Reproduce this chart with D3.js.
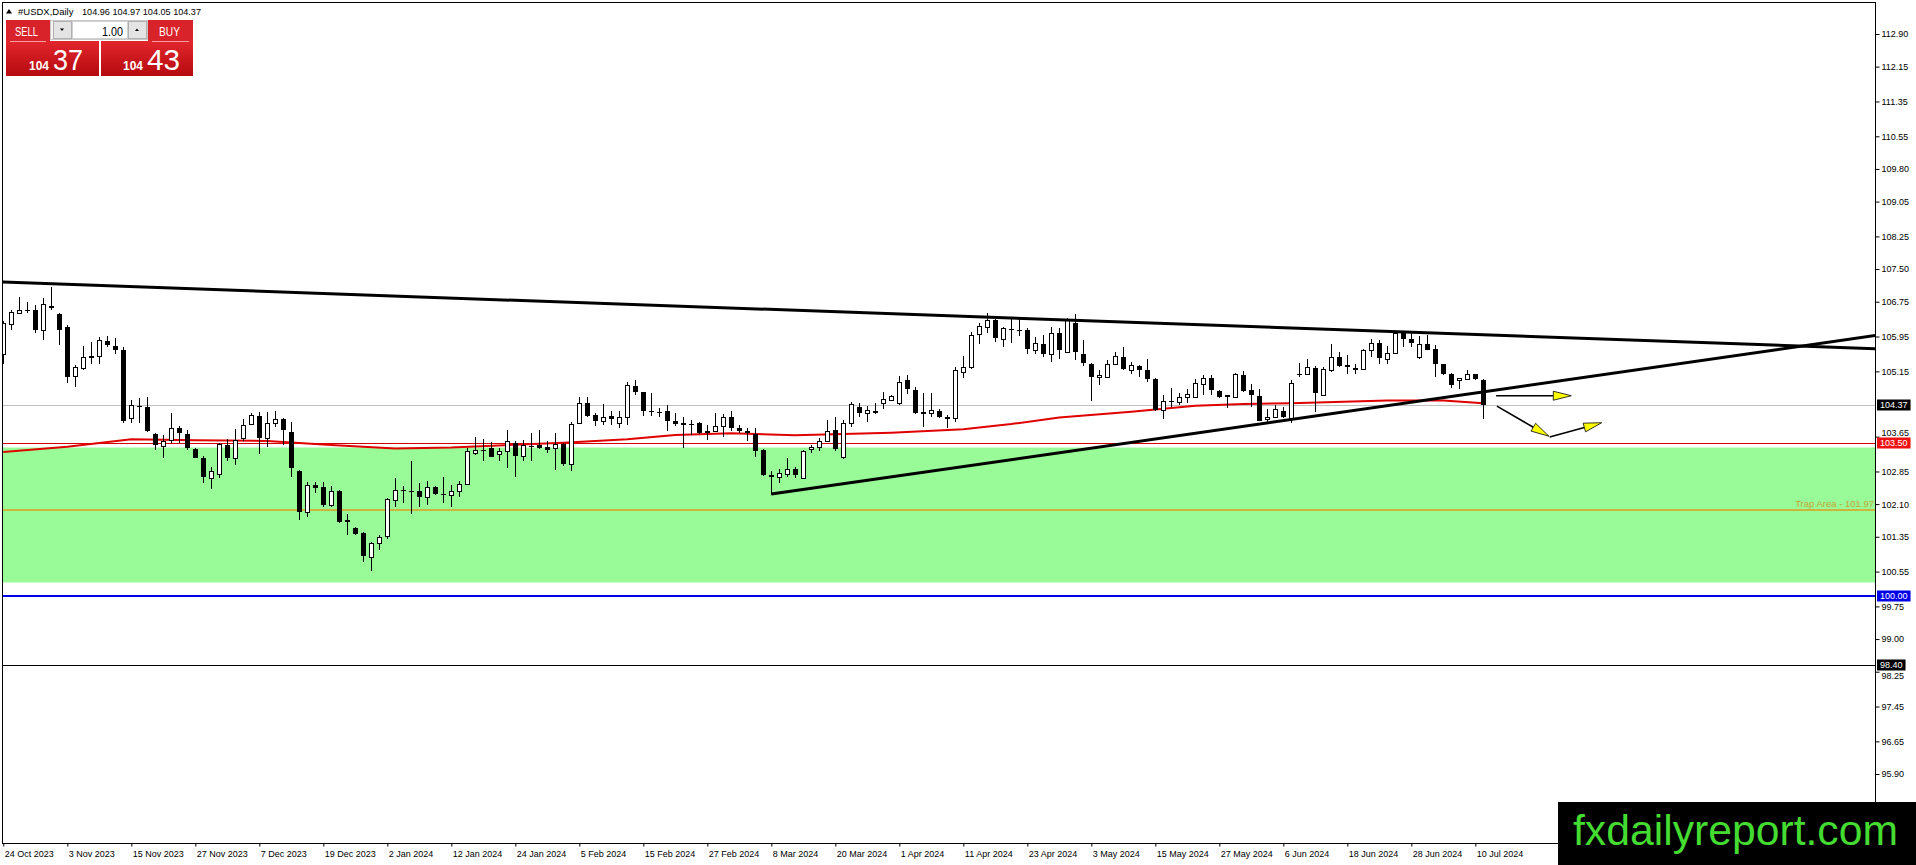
<!DOCTYPE html>
<html>
<head>
<meta charset="utf-8">
<script src="https://cdn.jsdelivr.net/npm/d3@7"></script>
<style>
  html, body { margin: 0; padding: 0; background: #fff; overflow: hidden; }
  svg { display: block; font-family: "Liberation Sans", Arial, sans-serif; }
</style>
</head>
<body>
<svg id="chart" width="1916" height="865"></svg>
<script>
// date labels, one every 8 bars starting at bar 0
const dateLabels = ["24 Oct 2023", "3 Nov 2023", "15 Nov 2023", "27 Nov 2023", "7 Dec 2023", "19 Dec 2023",
  "2 Jan 2024", "12 Jan 2024", "24 Jan 2024", "5 Feb 2024", "15 Feb 2024", "27 Feb 2024", "8 Mar 2024",
  "20 Mar 2024", "1 Apr 2024", "11 Apr 2024", "23 Apr 2024", "3 May 2024", "15 May 2024", "27 May 2024",
  "6 Jun 2024", "18 Jun 2024", "28 Jun 2024", "10 Jul 2024"];

const priceTicks = [112.90, 112.15, 111.35, 110.55, 109.80, 109.05, 108.25, 107.50, 106.75, 105.95, 105.15,
  103.65, 102.85, 102.10, 101.35, 100.55, 99.75, 99.00, 98.25, 97.45, 96.65, 95.90];

// daily OHLC, #USDX
const opens = [105.56,106.24,106.50,106.57,106.57,106.10,106.64,106.47,106.18,105.04,105.22,105.50,105.50,105.85,105.73,105.64,
  104.07,104.36,104.32,103.71,103.44,103.57,103.85,103.71,103.36,103.17,102.69,102.79,103.46,103.15,103.61,103.94,
  104.12,103.61,103.96,104.05,103.76,102.86,101.93,102.55,102.49,102.08,102.39,101.74,101.56,101.43,100.88,101.20,
  101.37,102.19,102.43,102.39,102.39,102.26,102.49,102.33,102.30,102.41,102.56,103.28,103.35,103.38,103.25,103.31,
  103.51,103.21,103.44,103.46,103.42,103.38,103.48,103.02,103.96,104.42,104.15,104.00,104.13,103.97,104.09,104.81,
  104.67,104.25,104.21,104.23,104.02,103.96,103.94,103.97,103.78,103.78,103.90,104.09,103.84,103.79,103.71,103.34,
  102.77,102.72,102.79,102.90,102.71,103.36,103.42,103.56,103.80,103.19,103.96,104.34,104.19,104.24,104.42,104.49,
  104.43,104.94,104.72,104.20,104.19,104.25,104.09,104.07,105.14,105.24,106.01,106.16,106.33,105.89,106.12,106.10,
  106.10,105.64,105.78,105.54,106.02,105.60,106.25,105.56,105.33,105.01,105.03,105.33,105.47,105.18,105.27,105.17,
  104.97,104.26,104.46,104.45,104.56,104.57,104.87,104.99,104.71,104.60,104.57,105.07,104.72,104.58,104.05,104.11,
  104.25,104.07,105.08,105.09,105.22,104.61,105.18,105.47,105.30,105.21,105.20,105.63,105.81,105.44,105.58,106.02,
  105.89,105.47,105.78,105.66,105.32,105.10,104.94,104.97,105.09,104.96];
const highs = [106.30,106.55,106.85,106.75,106.67,106.83,107.08,106.50,106.22,105.30,105.73,105.83,105.95,105.96,105.92,105.72,
  104.49,104.53,104.55,103.73,103.69,104.19,103.89,103.80,103.38,103.20,102.96,103.51,103.59,103.82,104.05,104.19,
  104.22,104.22,104.24,104.07,103.99,102.88,102.61,102.61,102.61,102.52,102.42,101.87,101.58,101.45,101.24,101.39,
  102.23,102.69,102.52,103.08,102.58,102.64,102.52,102.72,102.54,102.62,103.38,103.65,103.59,103.53,103.38,103.80,
  103.54,103.57,103.73,103.80,103.56,103.74,103.51,103.99,104.57,104.57,104.20,104.40,104.25,104.25,104.91,104.94,
  104.68,104.65,104.30,104.38,104.19,104.09,104.03,103.99,103.92,104.20,104.17,104.25,103.92,103.84,103.84,103.36,
  102.87,102.90,103.15,102.95,103.34,103.46,103.61,104.03,104.11,104.03,104.45,104.43,104.35,104.42,104.68,104.61,
  105.04,105.07,104.80,104.65,104.65,104.28,104.15,105.26,105.50,106.06,106.27,106.48,106.35,106.16,106.35,106.35,
  106.14,105.95,105.99,106.16,106.14,106.37,106.46,105.87,105.35,105.17,105.41,105.60,105.72,105.37,105.30,105.43,
  104.99,104.61,104.76,104.65,104.74,104.97,105.07,105.07,104.72,104.61,105.12,105.16,104.87,104.74,104.28,104.38,
  104.34,104.94,105.35,105.43,105.27,105.24,105.78,105.60,105.53,105.32,105.66,105.89,105.87,105.73,106.08,106.08,
  106.08,105.96,105.98,105.76,105.33,105.12,105.00,105.18,105.10,104.97];
const lows = [105.33,106.10,106.48,106.48,106.02,105.87,106.57,105.76,104.89,104.80,105.18,105.32,105.33,105.70,105.56,103.96,
  103.96,103.97,103.76,103.34,103.15,103.51,103.51,103.34,103.15,102.58,102.44,102.69,103.08,103.00,103.54,103.92,
  103.25,103.42,103.88,103.46,102.73,101.74,101.81,102.36,102.03,102.04,101.66,101.39,101.39,100.78,100.57,101.05,
  101.29,102.04,102.12,101.87,102.04,102.08,102.31,102.12,102.04,102.27,102.54,103.23,103.10,103.19,103.08,102.94,
  102.73,103.08,103.10,103.36,103.27,102.88,102.98,102.85,103.94,104.09,103.90,103.92,103.92,103.86,103.92,104.61,
  104.13,104.13,104.09,103.77,103.90,103.40,103.69,103.72,103.57,103.77,103.65,103.79,103.74,103.54,103.18,102.75,
  102.31,102.59,102.72,102.70,102.70,103.28,103.31,103.54,103.33,103.13,103.88,104.09,103.99,104.17,104.28,104.48,
  104.38,104.64,104.17,103.88,104.09,104.07,103.84,103.99,104.99,105.20,105.78,106.02,105.83,105.70,105.81,105.96,
  105.56,105.56,105.47,105.37,105.43,105.58,105.41,105.27,104.48,104.84,104.99,105.32,105.17,105.10,105.03,104.91,
  104.25,104.05,104.34,104.38,104.43,104.53,104.61,104.61,104.53,104.30,104.55,104.68,104.34,104.00,103.96,104.09,
  104.07,103.96,105.01,105.07,104.22,104.58,105.14,105.24,105.10,105.10,105.18,105.49,105.33,105.33,105.56,105.70,
  105.72,105.43,105.63,105.01,105.07,104.76,104.74,104.94,104.95,104.05];
const closes = [106.25,106.52,106.57,106.55,106.10,106.70,106.61,106.10,105.03,105.26,105.47,105.51,105.87,105.75,105.63,104.02,
  104.38,104.33,103.79,103.46,103.56,103.84,103.73,103.38,103.17,102.72,102.85,103.48,103.15,103.57,103.92,104.14,
  103.61,103.96,104.05,103.80,102.92,101.93,102.55,102.46,102.08,102.41,101.70,101.68,101.41,100.91,101.20,101.35,
  102.21,102.42,102.41,102.38,102.26,102.49,102.33,102.30,102.41,102.56,103.33,103.34,103.33,103.19,103.32,103.54,
  103.21,103.46,103.43,103.40,103.34,103.48,103.02,103.94,104.42,104.13,104.01,104.09,104.05,104.09,104.83,104.68,
  104.23,104.24,104.19,104.02,103.94,103.92,103.92,103.74,103.79,103.90,104.09,103.86,103.79,103.73,103.33,102.77,
  102.72,102.81,102.90,102.77,103.33,103.42,103.54,103.78,103.36,103.96,104.40,104.19,104.26,104.25,104.51,104.59,
  104.91,104.74,104.20,104.21,104.26,104.09,104.06,105.17,105.24,105.99,106.19,106.34,105.91,106.14,106.11,106.08,
  105.66,105.79,105.54,106.04,105.64,106.33,105.60,105.35,105.03,105.07,105.33,105.50,105.20,105.29,105.18,104.97,
  104.26,104.48,104.45,104.57,104.63,104.89,104.99,104.72,104.55,104.55,105.10,104.71,104.61,104.02,104.11,104.28,
  104.09,104.89,105.06,105.24,104.66,105.20,105.49,105.27,105.24,105.22,105.64,105.79,105.45,105.58,106.04,105.89,
  105.81,105.78,105.64,105.32,105.09,104.84,104.99,105.10,104.97,104.37];

// red moving average, read at these bars
const maBars = [0, 8, 16, 24, 33, 41, 49, 56, 70, 78, 84, 91, 99, 111, 120, 126, 132, 141, 149, 155, 161, 173, 180, 185];
const maValues = [103.30, 103.42, 103.59, 103.57, 103.55, 103.46, 103.38, 103.40, 103.51, 103.59, 103.69, 103.73, 103.68,
  103.74, 103.82, 103.94, 104.09, 104.22, 104.36, 104.40, 104.42, 104.48, 104.48, 104.42];

// horizontal levels
const bidPrice = 104.37;
const resistLevel = 103.50;
const trapLevel = 101.97;
const roundLevel = 100.00;
const lowLevel = 98.40;
const zoneTop = 103.40, zoneBottom = 100.30;

// trendlines as [bar, price] anchors
const upperTrend = [[0, 107.20], [185, 105.99]];
const lowerTrend = [[96, 102.33], [185, 104.68]];

// arrows drawn after the last bar, [bar, price] -> [bar, price]
const arrows = [
  [[186.6, 104.59], [196.0, 104.59]],
  [[186.7, 104.35], [193.2, 103.66]],
  [[193.3, 103.64], [199.8, 103.97]]
];

const quote = { sellBig: "104", sellSmall: "37", buyBig: "104", buySmall: "43", lot: "1.00",
  header: "104.96 104.97 104.05 104.37" };

const svg = d3.select("#chart");
const plot = { left: 3, top: 3, right: 1875, bottom: 843 };

const x = d3.scaleLinear().domain([0, 185]).range([3.3, 1483.3]);
const y = d3.scaleLinear().domain([95.90, 112.90]).range([774, 34]);

svg.append("defs").append("clipPath").attr("id", "plotclip")
  .append("rect")
  .attr("x", plot.left).attr("y", plot.top)
  .attr("width", plot.right - plot.left).attr("height", plot.bottom - plot.top);

const g = svg.append("g").attr("clip-path", "url(#plotclip)");

// green zone
g.append("rect")
  .attr("x", plot.left).attr("width", plot.right - plot.left)
  .attr("y", y(zoneTop)).attr("height", y(zoneBottom) - y(zoneTop))
  .attr("fill", "#98fb98");

function hline(price, color, width) {
  const yy = Math.round(y(price)) + (width % 2 ? 0.5 : 0);
  g.append("line")
    .attr("x1", plot.left).attr("x2", plot.right)
    .attr("y1", yy).attr("y2", yy)
    .attr("stroke", color).attr("stroke-width", width);
}
hline(bidPrice, "#c0c0c0", 1);
hline(resistLevel, "#d40000", 1);
hline(trapLevel, "#cdb43a", 2);
hline(roundLevel, "#0000e6", 2);
hline(lowLevel, "#000", 1);

g.append("text")
  .attr("x", plot.right - 1).attr("y", y(trapLevel) - 3)
  .attr("text-anchor", "end").attr("font-size", 9.5)
  .attr("fill", "#c4a632")
  .text("Trap Area - " + trapLevel.toFixed(2));

// moving average
const maLine = d3.line().x(d => x(d[0])).y(d => y(d[1]));
g.append("path")
  .datum(maBars.map((b, i) => [b, maValues[i]]))
  .attr("d", maLine)
  .attr("fill", "none").attr("stroke", "#e00000").attr("stroke-width", 2);

// candles
const bars = opens.map((o, i) => ({ i, o, h: highs[i], l: lows[i], c: closes[i] }));
const candle = g.selectAll("g.candle").data(bars).enter().append("g").attr("class", "candle");

candle.append("line")
  .attr("x1", d => Math.round(x(d.i)) + 0.5).attr("x2", d => Math.round(x(d.i)) + 0.5)
  .attr("y1", d => Math.round(y(d.h))).attr("y2", d => Math.round(y(d.l)))
  .attr("stroke", "#000").attr("stroke-width", 1);

candle.append("rect")
  .attr("x", d => d.c >= d.o ? Math.round(x(d.i)) - 1.5 : Math.round(x(d.i)) - 2)
  .attr("width", d => d.c >= d.o ? 4 : 5)
  .attr("y", d => Math.round(y(Math.max(d.o, d.c))) + (d.c >= d.o ? 0.5 : 0))
  .attr("height", d => Math.max(1, Math.round(y(Math.min(d.o, d.c))) - Math.round(y(Math.max(d.o, d.c)))))
  .attr("fill", d => d.c >= d.o ? "#fff" : "#000")
  .attr("stroke", d => d.c >= d.o ? "#000" : "none")
  .attr("stroke-width", 1);

// trendlines, extended as rays
function trend(pts, fromBar, toBar) {
  const [[b1, p1], [b2, p2]] = pts;
  const slope = (p2 - p1) / (b2 - b1);
  g.append("line")
    .attr("x1", x(fromBar)).attr("y1", y(p1 + slope * (fromBar - b1)))
    .attr("x2", x(toBar)).attr("y2", y(p1 + slope * (toBar - b1)))
    .attr("stroke", "#000").attr("stroke-width", 3).attr("stroke-linecap", "butt");
}
trend(upperTrend, -5, 240);
trend(lowerTrend, lowerTrend[0][0], 240);

// arrows with yellow heads
arrows.forEach(([a, b]) => {
  const x1 = x(a[0]), y1 = y(a[1]), x2 = x(b[0]), y2 = y(b[1]);
  const len = Math.hypot(x2 - x1, y2 - y1);
  const ux = (x2 - x1) / len, uy = (y2 - y1) / len;
  const headL = 18, headW = 4.5;
  const bx = x2 - ux * headL, by = y2 - uy * headL;
  g.append("line")
    .attr("x1", x1).attr("y1", y1).attr("x2", bx).attr("y2", by)
    .attr("stroke", "#000").attr("stroke-width", 1.6);
  g.append("polygon")
    .attr("points", [[x2, y2], [bx - uy * headW, by + ux * headW], [bx + uy * headW, by - ux * headW]]
      .map(p => p.join(",")).join(" "))
    .attr("fill", "#ffff00").attr("stroke", "#000").attr("stroke-width", 0.8);
});

// frame
svg.append("rect")
  .attr("x", plot.left - 0.5).attr("y", plot.top - 0.5)
  .attr("width", plot.right - plot.left + 1).attr("height", plot.bottom - plot.top + 1)
  .attr("fill", "none").attr("stroke", "#000").attr("stroke-width", 1);

// right price axis
const yAxis = svg.append("g")
  .attr("transform", `translate(${plot.right + 0.5},0)`)
  .call(d3.axisRight(y).tickValues(priceTicks).tickSize(4).tickFormat(d3.format(".2f")));
yAxis.select(".domain").remove();
yAxis.selectAll("text").attr("font-size", 9).attr("font-family", "Liberation Sans, Arial, sans-serif").attr("x", 6);
// labels that sit next to a price tag are nudged clear of it
yAxis.selectAll("text").filter(d => d === 103.65).attr("y", -4);
yAxis.selectAll("text").filter(d => d === 98.25).attr("y", 4);

// bottom time axis
const xAxis = svg.append("g")
  .attr("transform", `translate(0,${plot.bottom + 0.5})`)
  .call(d3.axisBottom(x).tickValues(dateLabels.map((_, i) => i * 8)).tickSize(3)
    .tickFormat((d, i) => dateLabels[i]));
xAxis.select(".domain").remove();
xAxis.selectAll("text")
  .attr("font-size", 9).attr("font-family", "Liberation Sans, Arial, sans-serif")
  .attr("text-anchor", "start").attr("x", 1).attr("y", 7);

// price tags on the axis
const tags = [
  { v: bidPrice, fill: "#000" },
  { v: resistLevel, fill: "#ee1111" },
  { v: roundLevel, fill: "#0000e6" },
  { v: lowLevel, fill: "#000" }
];
tags.forEach(t => {
  const tg = svg.append("g").attr("transform", `translate(${plot.right + 2},${Math.round(y(t.v))})`);
  const rect = tg.append("rect").attr("y", -5.5).attr("height", 11).attr("fill", t.fill);
  const txt = tg.append("text").attr("x", 3).attr("dy", "0.35em")
    .attr("font-size", 9).attr("fill", "#fff").text(t.v.toFixed(2));
  rect.attr("width", txt.node().getComputedTextLength() + 6);
});

// header line
svg.append("polygon").attr("points", "6,13.5 9,9 12,13.5").attr("fill", "#000");
svg.append("text").attr("x", 18).attr("y", 14.5).attr("font-size", 9.5).text("#USDX,Daily");
svg.append("text").attr("x", 82).attr("y", 14.5).attr("font-size", 9.5)
  .attr("textLength", 119).attr("lengthAdjust", "spacingAndGlyphs").text(quote.header);

// one-click trading panel
const grad = svg.select("defs").append("linearGradient").attr("id", "redgrad")
  .attr("x1", 0).attr("x2", 0).attr("y1", 0).attr("y2", 1);
grad.append("stop").attr("offset", "0%").attr("stop-color", "#e2262c");
grad.append("stop").attr("offset", "100%").attr("stop-color", "#b50a0f");

const panel = svg.append("g");
panel.append("rect").attr("x", 6).attr("y", 20).attr("width", 44).attr("height", 22).attr("fill", "#d8232a");
panel.append("rect").attr("x", 148).attr("y", 20).attr("width", 45).attr("height", 22).attr("fill", "#d8232a");
panel.append("rect").attr("x", 6).attr("y", 41).attr("width", 93).attr("height", 35).attr("fill", "url(#redgrad)");
panel.append("rect").attr("x", 101).attr("y", 41).attr("width", 92).attr("height", 35).attr("fill", "url(#redgrad)");
panel.append("line").attr("x1", 10).attr("x2", 46).attr("y1", 41.5).attr("y2", 41.5).attr("stroke", "#f2a0a0");
panel.append("line").attr("x1", 152).attr("x2", 189).attr("y1", 41.5).attr("y2", 41.5).attr("stroke", "#f2a0a0");

panel.append("rect").attr("x", 50.5).attr("y", 20.5).attr("width", 97).attr("height", 19)
  .attr("fill", "#f4f4f4").attr("stroke", "#c8c8c8");
panel.append("rect").attr("x", 53.5).attr("y", 21.5).attr("width", 18).attr("height", 17)
  .attr("fill", "#e4e4e4").attr("stroke", "#b0b0b0");
panel.append("rect").attr("x", 72.5).attr("y", 21.5).attr("width", 55).attr("height", 17)
  .attr("fill", "#fff").attr("stroke", "#d0d0d0");
panel.append("rect").attr("x", 128.5).attr("y", 21.5).attr("width", 18).attr("height", 17)
  .attr("fill", "#e4e4e4").attr("stroke", "#b0b0b0");
panel.append("polygon").attr("points", "60,28.5 64,28.5 62,31").attr("fill", "#000");
panel.append("polygon").attr("points", "135,31 139,31 137,28.5").attr("fill", "#000");

function ptext(str, px, py, size, len, weight, anchor) {
  panel.append("text").attr("x", px).attr("y", py).attr("font-size", size)
    .attr("font-weight", weight || "normal").attr("text-anchor", anchor || "start")
    .attr("fill", "#fff").attr("textLength", len).attr("lengthAdjust", "spacingAndGlyphs").text(str);
}
ptext("SELL", 15, 36, 12.5, 23);
ptext("BUY", 159, 36, 12.5, 21);
panel.append("text").attr("x", 102).attr("y", 36).attr("font-size", 12)
  .attr("textLength", 21).attr("lengthAdjust", "spacingAndGlyphs").text(quote.lot);
ptext(quote.sellBig, 29, 70, 13, 20, "bold");
ptext(quote.sellSmall, 53, 70, 30, 30);
ptext(quote.buyBig, 123, 70, 13, 20, "bold");
ptext(quote.buySmall, 147, 70, 30, 33);

// watermark
svg.append("rect").attr("x", 1558).attr("y", 802).attr("width", 358).attr("height", 63).attr("fill", "#000");
svg.append("text").attr("x", 1573).attr("y", 845).attr("font-size", 43)
  .attr("fill", "#45dc32").attr("textLength", 325).attr("lengthAdjust", "spacingAndGlyphs")
  .text("fxdailyreport.com");
</script>
</body>
</html>
